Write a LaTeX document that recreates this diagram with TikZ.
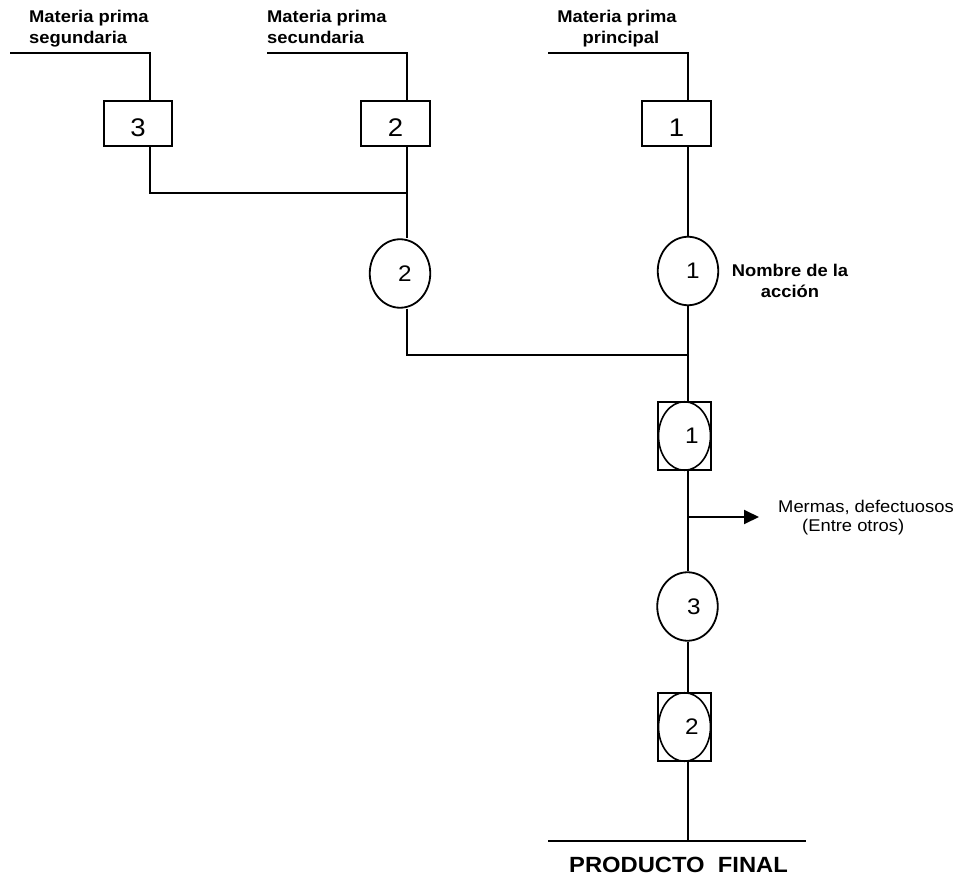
\documentclass[tikz,border=0pt]{standalone}
\usepackage{fontspec}
\setmainfont{Liberation Sans}[FakeStretch=1.08]
\usetikzlibrary{shapes.geometric,arrows.meta}

\tikzset{
  flow/.style={line width=1.9pt},
  opbox/.style={draw, rectangle, line width=1.9pt, minimum width=68.5pt,
    minimum height=45.5pt, inner sep=0pt, text height=26pt, text depth=0pt,
    font=\fontsize{25.5}{25.5}\selectfont},
  opcirc/.style={draw, ellipse, line width=1.8pt, minimum width=60.5pt,
    minimum height=68.5pt, inner sep=0pt, font=\fontsize{22.5}{22.5}\selectfont},
  inspbox/.style={draw, rectangle, line width=1.8pt, minimum width=53.5pt,
    minimum height=68.5pt, inner sep=0pt},
  inspcirc/.style={draw, ellipse, line width=1.6pt, minimum width=52pt,
    minimum height=68.5pt, inner sep=0pt, font=\fontsize{22.5}{22.5}\selectfont},
  lbl/.style={font=\bfseries\fontsize{17}{21}\selectfont, inner sep=0pt},
  note/.style={font=\fontsize{17}{21}\selectfont, inner sep=0pt},
}

\begin{document}
\begin{tikzpicture}[x=1pt, y=-1pt]
  \useasboundingbox (0,0) rectangle (962,885);

  % vertical flow lines
  \coordinate (xa) at (150,0);
  \coordinate (xb) at (407,0);
  \coordinate (xs) at (688,0);

  % raw material labels
  \node[lbl, anchor=base west] (m3a) at (29,23) {Materia prima};
  \node[lbl, anchor=base west] (m3b) at (29,44) {segundaria};
  \node[lbl, anchor=base west] (m2a) at (267,23) {Materia prima};
  \node[lbl, anchor=base west] (m2b) at (267,44) {secundaria};
  \node[lbl, anchor=base] (m1a) at (617,23) {Materia prima};
  \node[lbl, anchor=base] (m1b) at (621,44) {principal};

  % feed lines
  \coordinate (f3s) at (10,53);
  \coordinate (f3e) at (150,53);
  \coordinate (f2s) at (267,53);
  \coordinate (f2e) at (407,53);
  \coordinate (f1s) at (548,53);
  \coordinate (f1e) at (688,53);

  % operation boxes
  \node[opbox] (b3) at (138,123.5) {3};
  \node[opbox] (b2) at (395.5,123.5) {2};
  \node[opbox] (b1) at (676.5,123.5) {1};

  % operations
  \node[opcirc] (c2) at (400,273.5) {\hspace*{10pt}2};
  \node[opcirc] (c1) at (688,271) {\hspace*{10pt}1};
  \node[lbl, anchor=base] (n1a) at (790,277) {Nombre de la};
  \node[lbl, anchor=base] (n1b) at (790,298) {acción};

  % junctions
  \coordinate (j3) at (150,193);
  \coordinate (j2) at (407,193);
  \coordinate (jb) at (407,355);
  \coordinate (js) at (688,355);

  % combined operation / inspection 1
  \node[inspbox] (k1) at (684.5,436) {};
  \node[inspcirc] (k1e) at (684.5,436) {\hspace*{15pt}1};

  % waste branch
  \coordinate (w0) at (688,517);
  \coordinate (w1) at (759,517);
  \node[note, anchor=base west] (wa) at (778,512) {Mermas, defectuosos};
  \node[note, anchor=base west] (wb) at (802,531) {(Entre otros)};

  % operation 3
  \node[opcirc] (c3) at (687.5,606.5) {\hspace*{13pt}3};

  % combined operation / inspection 2
  \node[inspbox] (k2) at (684.5,727) {};
  \node[inspcirc] (k2e) at (684.5,727) {\hspace*{15pt}2};

  % final product
  \coordinate (pe) at (688,841);
  \coordinate (p0) at (548,841);
  \coordinate (p1) at (806,841);
  \node[lbl, font=\bfseries\fontsize{22}{22}\selectfont, anchor=base] (pf) at (678.5,872) {PRODUCTO~~FINAL};

  % connectors
  \draw[flow] (f3s) -- (f3e) -- (b3.north -| xa);
  \draw[flow] (f2s) -- (f2e) -- (b2.north -| xb);
  \draw[flow] (f1s) -- (f1e) -- (b1.north -| xs);

  \draw[flow] (b3.south -| xa) -- (j3) -- (j2);
  \draw[flow] (b2.south -| xb) -- (c2.north -| xb);
  \draw[flow] (c2.south -| xb) -- (jb) -- (js);

  \draw[flow] (b1.south -| xs) -- (c1.north);
  \draw[flow] (c1.south) -- (k1.north -| xs);
  \draw[flow] (k1.south -| xs) -- (c3.north -| xs);
  \draw[flow] (c3.south -| xs) -- (k2.north -| xs);
  \draw[flow] (k2.south -| xs) -- (pe);
  \draw[flow] (p0) -- (p1);

  \draw[flow, -{Triangle[length=15pt, width=14pt]}] (w0) -- (w1);
\end{tikzpicture}
\end{document}
